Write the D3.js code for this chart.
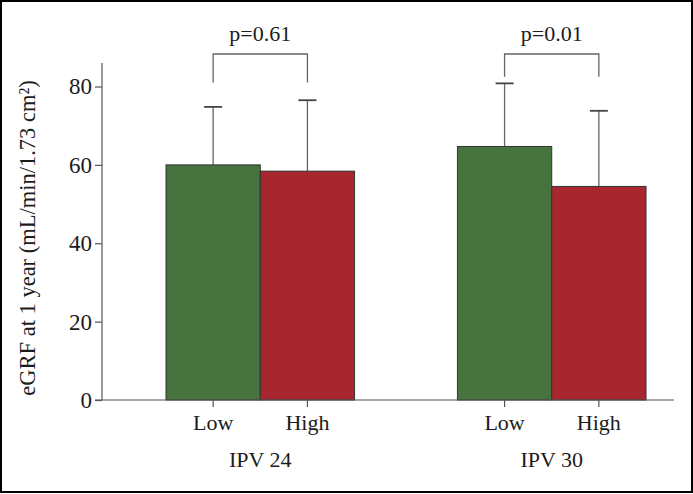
<!DOCTYPE html>
<html>
<head>
<meta charset="utf-8">
<script src="https://cdn.jsdelivr.net/npm/d3@7"></script>
<style>
  html, body { margin: 0; padding: 0; background: #fff; }
  svg text { font-family: "Liberation Serif", "Times New Roman", serif; fill: #1c1c1c; }
</style>
</head>
<body>
<svg id="chart" width="693" height="494"></svg>
<script>
// ---- data ----
const groups = ["IPV 24", "IPV 30"];
const levels = ["Low", "High"];
const means = { "IPV 24": [60.0, 58.4], "IPV 30": [64.7, 54.5] };
const upperErr = { "IPV 24": [74.8, 76.5], "IPV 30": [80.8, 73.8] };
const pLabels = ["p=0.61", "p=0.01"];
const bracketTop = [88.3, 88.3];
const bracketLegs = [81.0, 82.5];
const yTicks = [0, 20, 40, 60, 80];
const yTitle = "eGRF at 1 year (mL/min/1.73 cm²)";
const colors = { "Low": "#47743e", "High": "#a8272f" };

// ---- scales ----
const svg = d3.select("#chart");
const y = d3.scaleLinear().domain([0, 86]).range([400, 63]);
const x0 = d3.scaleBand().domain(groups).range([166, 646]).paddingInner(0.353).paddingOuter(0);
const x1 = d3.scaleBand().domain(levels).range([0, x0.bandwidth()]).padding(0);
const axisLeft = 102;

// frame border
svg.append("rect").attr("x", 1).attr("y", 1).attr("width", 691).attr("height", 491)
  .attr("fill", "none").attr("stroke", "#000").attr("stroke-width", 2);

// bars
const g = svg.append("g");
groups.forEach((grp, gi) => {
  levels.forEach((lv, li) => {
    const v = means[grp][li];
    const bx = x0(grp) + x1(lv);
    const cx = bx + x1.bandwidth() / 2;
    g.append("line").attr("x1", cx).attr("x2", cx)
      .attr("y1", y(v)).attr("y2", y(upperErr[grp][li]))
      .attr("stroke", "#666").attr("stroke-width", 1.3);
    g.append("line").attr("x1", cx - 9).attr("x2", cx + 9)
      .attr("y1", y(upperErr[grp][li])).attr("y2", y(upperErr[grp][li]))
      .attr("stroke", "#444").attr("stroke-width", 1.8);
    g.append("rect").attr("x", bx).attr("y", y(v))
      .attr("width", x1.bandwidth()).attr("height", y(0) - y(v))
      .attr("fill", colors[lv]).attr("stroke", "#333").attr("stroke-width", 1);
  });
  const lx = x0(grp) + x1("Low") + x1.bandwidth() / 2;
  const hx = x0(grp) + x1("High") + x1.bandwidth() / 2;
  g.append("path")
    .attr("d", `M${lx},${y(bracketLegs[gi])}V${y(bracketTop[gi])}H${hx}V${y(bracketLegs[gi])}`)
    .attr("fill", "none").attr("stroke", "#666").attr("stroke-width", 1.3);
  g.append("text").attr("x", (lx + hx) / 2).attr("y", 41)
    .attr("text-anchor", "middle").attr("font-size", 22).text(pLabels[gi]);
  levels.forEach(lv => {
    const cx = x0(grp) + x1(lv) + x1.bandwidth() / 2;
    g.append("line").attr("x1", cx).attr("x2", cx).attr("y1", y(0)).attr("y2", y(0) + 7)
      .attr("stroke", "#555").attr("stroke-width", 1.2);
    g.append("text").attr("x", cx).attr("y", 430).attr("text-anchor", "middle")
      .attr("font-size", 22).text(lv);
  });
  g.append("text").attr("x", x0(grp) + x0.bandwidth() / 2).attr("y", 467)
    .attr("text-anchor", "middle").attr("font-size", 22).text(grp);
});

// y axis
const ya = svg.append("g").attr("transform", `translate(${axisLeft},0)`)
  .call(d3.axisLeft(y).tickValues(yTicks).tickSize(7).tickPadding(3));
ya.select(".domain").attr("d", `M0,${y(86)}V${y(0)}`).attr("stroke", "#555").attr("stroke-width", 1.2);
ya.selectAll(".tick line").attr("stroke", "#555").attr("stroke-width", 1.2);
ya.selectAll(".tick text").attr("font-size", 23).attr("fill", "#1c1c1c")
  .attr("font-family", "Liberation Serif, serif");

// x axis line
svg.append("line").attr("x1", axisLeft - 7).attr("x2", 674).attr("y1", y(0)).attr("y2", y(0))
  .attr("stroke", "#555").attr("stroke-width", 1.2);

// y title
svg.append("text").attr("transform", `translate(35,${238}) rotate(-90)`)
  .attr("text-anchor", "middle").attr("font-size", 22.5).text(yTitle);
</script>
</body>
</html>
